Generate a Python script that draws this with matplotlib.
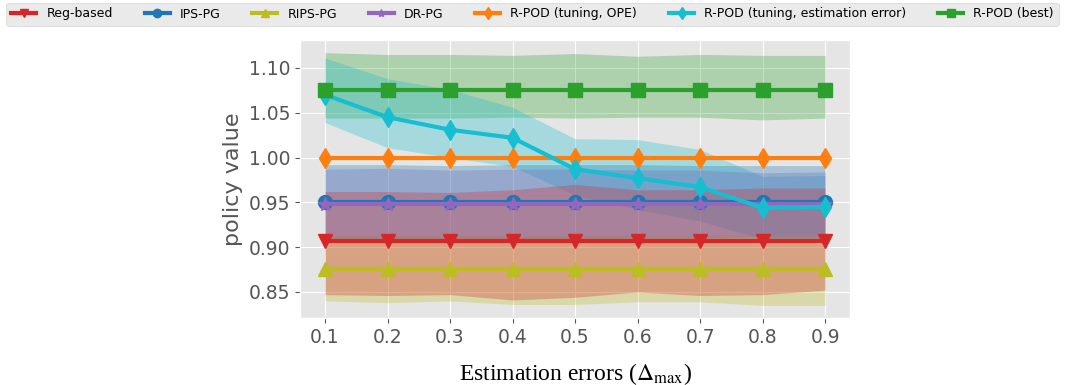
import numpy as np
import matplotlib
matplotlib.use("Agg")
import matplotlib.pyplot as plt

# estimation error levels
x = [0.1, 0.2, 0.3, 0.4, 0.5, 0.6, 0.7, 0.8, 0.9]

reg_mean = [0.907] * 9
reg_lo = [0.847, 0.846, 0.847, 0.841, 0.844, 0.850, 0.846, 0.847, 0.852]
reg_hi = [0.962, 0.962, 0.961, 0.964, 0.970, 0.964, 0.964, 0.966, 0.966]

ips_mean = [0.950] * 9
ips_lo = [0.908, 0.908, 0.909, 0.908, 0.908, 0.908, 0.909, 0.909, 0.909]
ips_hi = [0.992, 0.992, 0.991, 0.992, 0.992, 0.992, 0.991, 0.991, 0.991]

rips_mean = [0.876] * 9
rips_lo = [0.840, 0.838, 0.840, 0.836, 0.836, 0.839, 0.839, 0.835, 0.835]
rips_hi = [0.913, 0.913, 0.913, 0.913, 0.913, 0.913, 0.913, 0.913, 0.913]

dr_mean = [0.948] * 9
dr_lo = [0.909, 0.909, 0.910, 0.909, 0.909, 0.910, 0.910, 0.912, 0.912]
dr_hi = [0.987, 0.988, 0.986, 0.987, 0.987, 0.986, 0.986, 0.983, 0.984]

ope_mean = [1.000] * 9

est_mean = [1.070, 1.045, 1.031, 1.022, 0.987, 0.977, 0.967, 0.944, 0.945]
est_lo = [1.039, 1.011, 1.000, 0.990, 0.958, 0.942, 0.929, 0.909, 0.907]
est_hi = [1.111, 1.088, 1.076, 1.056, 1.021, 1.020, 1.009, 0.979, 0.980]

best_mean = [1.075] * 9
best_lo = [1.044, 1.044, 1.044, 1.045, 1.044, 1.045, 1.045, 1.042, 1.044]
best_hi = [1.117, 1.115, 1.115, 1.114, 1.116, 1.113, 1.115, 1.114, 1.114]

plt.style.use("ggplot")
plt.rcParams["mathtext.fontset"] = "stix"

fig = plt.figure(figsize=(10.65, 3.85), dpi=100)
ax = fig.add_axes([0.2817, 0.174, 0.5165, 0.722])

series = [
    ("Reg-based", reg_mean, reg_lo, reg_hi, "tab:red", "v"),
    ("IPS-PG", ips_mean, ips_lo, ips_hi, "tab:blue", "o"),
    ("RIPS-PG", rips_mean, rips_lo, rips_hi, "tab:olive", "^"),
    ("DR-PG", dr_mean, dr_lo, dr_hi, "tab:purple", "*"),
    ("R-POD (tuning, OPE)", ope_mean, None, None, "tab:orange", "d"),
    ("R-POD (tuning, estimation error)", est_mean, est_lo, est_hi, "tab:cyan", "d"),
    ("R-POD (best)", best_mean, best_lo, best_hi, "tab:green", "s"),
]

# bands first (last series at the bottom), then lines on top
for name, m, lo, hi, c, mk in series[::-1]:
    if lo is not None:
        ax.fill_between(x, lo, hi, color=c, alpha=0.3, linewidth=0)
for name, m, lo, hi, c, mk in series:
    ax.plot(x, m, color=c, marker=mk, lw=3, ms=10, label=name, zorder=3)

ax.set_xticks(x)
ax.set_yticks([0.85, 0.90, 0.95, 1.00, 1.05, 1.10])
ax.tick_params(labelsize=13.5)
ax.set_ylabel("policy value", fontsize=16)
ax.set_xlabel(r"Estimation errors ($\Delta_{\max}$)", fontsize=17, color="black",
              family="Liberation Serif", labelpad=10)

fig.legend(loc="upper center", bbox_to_anchor=(0.5, 1.0), ncol=7, fontsize=9,
           columnspacing=2.55, markerscale=0.6, borderaxespad=0.2)

fig.savefig("out.png", dpi=100)
